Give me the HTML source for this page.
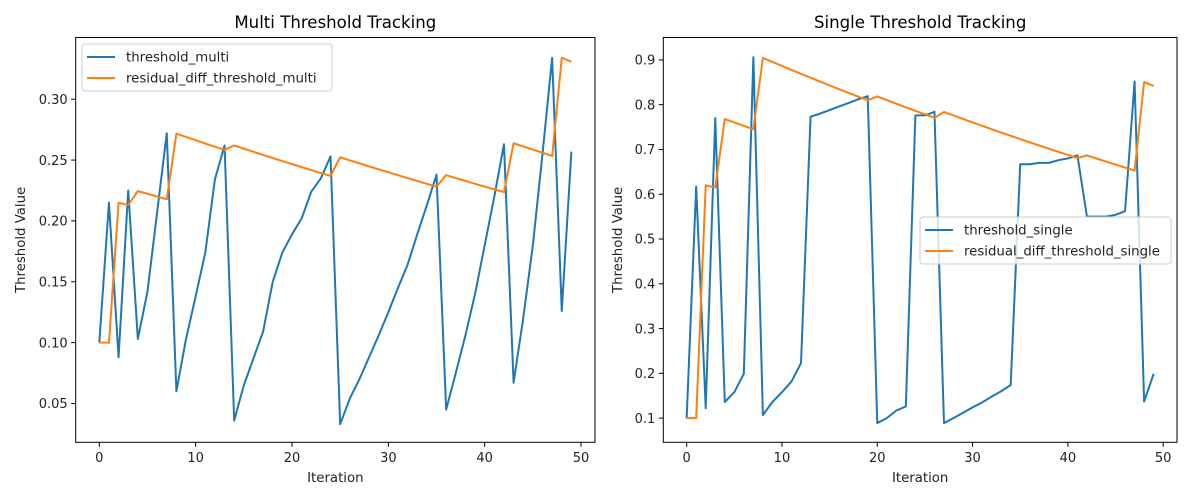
<!DOCTYPE html>
<html><head><meta charset="utf-8"><style>
body{margin:0;background:#fff;}
svg{display:block;font-family:"DejaVu Sans","Liberation Sans",sans-serif;}
</style></head><body>
<svg id="chart" width="1200" height="500" viewBox="0 0 1200 500" xmlns="http://www.w3.org/2000/svg"></svg>
<script>
const iterations = Array.from({length:50},(_,i)=>i);
const thresholdMulti = [0.100,0.215,0.088,0.225,0.103,0.142,0.207,0.272,0.060,0.103,0.138,0.174,0.234,0.262,0.036,0.065,0.087,0.109,0.150,0.174,0.189,0.202,0.224,0.235,0.253,0.033,0.054,0.070,0.088,0.106,0.125,0.145,0.164,0.189,0.213,0.238,0.045,0.075,0.106,0.140,0.180,0.220,0.263,0.067,0.120,0.180,0.255,0.334,0.126,0.257];
const residualMulti = [0.100,0.100,0.215,0.213,0.2245,0.2223,0.2200,0.2178,0.2717,0.2690,0.2663,0.2636,0.2610,0.2584,0.2620,0.2594,0.2568,0.2542,0.2517,0.2492,0.2467,0.2442,0.2418,0.2393,0.2370,0.2523,0.2498,0.2473,0.2448,0.2424,0.2400,0.2376,0.2352,0.2328,0.2305,0.2282,0.2376,0.2352,0.2329,0.2305,0.2282,0.2259,0.2237,0.2638,0.2612,0.2586,0.2560,0.2534,0.334,0.3307];
const thresholdSingle = [0.100,0.617,0.122,0.770,0.136,0.158,0.199,0.906,0.107,0.136,0.158,0.182,0.223,0.773,0.780,0.788,0.796,0.804,0.812,0.819,0.089,0.100,0.117,0.126,0.776,0.776,0.784,0.089,0.100,0.112,0.124,0.135,0.148,0.160,0.174,0.667,0.667,0.670,0.670,0.676,0.680,0.687,0.550,0.550,0.550,0.554,0.562,0.852,0.137,0.199];
const residualSingle = [0.100,0.100,0.620,0.615,0.768,0.7603,0.7527,0.7452,0.9044,0.8954,0.8864,0.8776,0.8688,0.8601,0.8515,0.8430,0.8346,0.8262,0.8180,0.8098,0.8185,0.8103,0.8022,0.7942,0.7863,0.7784,0.7706,0.7837,0.7759,0.7681,0.7604,0.7528,0.7453,0.7378,0.7305,0.7232,0.7159,0.7088,0.7017,0.6947,0.6877,0.6808,0.6867,0.6798,0.6730,0.6663,0.6596,0.6530,0.8504,0.8419];
const xTicks = [0,10,20,30,40,50];
const yTicksMulti = [0.05,0.10,0.15,0.20,0.25,0.30];
const yTicksSingle = [0.1,0.2,0.3,0.4,0.5,0.6,0.7,0.8,0.9];

const NS="http://www.w3.org/2000/svg";
const svg=document.getElementById('chart');
function mk(tag,attrs,parent){const e=document.createElementNS(NS,tag);for(const k in attrs)e.setAttribute(k,attrs[k]);(parent||svg).appendChild(e);return e;}

function panel(cfg){
  const g=mk('g',{});
  
  
  const L=cfg.left,R=cfg.right,T=37.5,B=442.3;
  const sx=v=>L+(v-cfg.xmin)/(cfg.xmax-cfg.xmin)*(R-L);
  const sy=v=>B-(v-cfg.ymin)/(cfg.ymax-cfg.ymin)*(B-T);
  const title=mk('text',{x:(L+R)/2,y:28,'text-anchor':'middle','font-size':16.6,fill:'#000'},g);
  title.textContent=cfg.title;
  
  
  const series=[[cfg.s1,'#1f77b4',cfg.n1],[cfg.s2,'#ff7f0e',cfg.n2]];
  series.forEach(([vals,col,nm])=>{
    const d=vals.map((v,i)=>(i?'L':'M')+sx(iterations[i]).toFixed(2)+' '+sy(v).toFixed(2)).join(' ');
    const p=mk('path',{d:d,fill:'none',stroke:col,'stroke-width':2,'stroke-linejoin':'round'},g);
    
    
  });
  const frame=mk('rect',{x:L,y:T,width:R-L,height:B-T,fill:'none',stroke:'#000','stroke-width':1},g);
  
  
  xTicks.forEach(t=>{
    const x=sx(t);
    mk('line',{x1:x,x2:x,y1:B,y2:B+4.5,stroke:'#000','stroke-width':1},g);
    const tx=mk('text',{x:x,y:B+19.5,'text-anchor':'middle','font-size':13,fill:'#222'},g);
    tx.textContent=t;
    
    
  });
  cfg.yticks.forEach(t=>{
    const y=sy(t);
    mk('line',{x1:L-4.5,x2:L,y1:y,y2:y,stroke:'#000','stroke-width':1},g);
    const tx=mk('text',{x:L-8,y:y+4.7,'text-anchor':'end','font-size':13,fill:'#222'},g);
    tx.textContent=t.toFixed(cfg.dec);
    
    
  });
  const xl=mk('text',{x:(L+R)/2,y:482,'text-anchor':'middle','font-size':13.3,fill:'#222'},g);
  xl.textContent='Iteration';
  
  
  const yl=mk('text',{x:0,y:0,'text-anchor':'middle','font-size':13.3,fill:'#222',transform:`translate(${cfg.ylx},${(T+B)/2}) rotate(-90)`},g);
  yl.textContent='Threshold Value';
  
  
  const lg=mk('g',{},g);
  
  
  mk('rect',{x:cfg.lx,y:cfg.ly,width:cfg.lw,height:47,rx:3,fill:'#fff','fill-opacity':0.8,stroke:'#ccc','stroke-width':1},lg);
  series.forEach(([vals,col,nm],k)=>{
    const y=cfg.ly+13+k*21;
    mk('line',{x1:cfg.lx+5,x2:cfg.lx+33,y1:y,y2:y,stroke:col,'stroke-width':2},lg);
    const t=mk('text',{x:cfg.lx+44,y:y+4.7,'font-size':13.3,fill:'#222'},lg);
    t.textContent=nm;
    
    
  });
}
panel({name:'multi-threshold-panel',title:'Multi Threshold Tracking',left:75.7,right:595,xmin:-2.45,xmax:51.45,ymin:0.0181,ymax:0.3507,
  s1:thresholdMulti,s2:residualMulti,n1:'threshold_multi',n2:'residual_diff_threshold_multi',yticks:yTicksMulti,dec:2,ylx:25,lx:82,ly:44,lw:250});
panel({name:'single-threshold-panel',title:'Single Threshold Tracking',left:663.3,right:1177,xmin:-2.45,xmax:51.45,ymin:0.046,ymax:0.950,
  s1:thresholdSingle,s2:residualSingle,n1:'threshold_single',n2:'residual_diff_threshold_single',yticks:yTicksSingle,dec:1,ylx:622,lx:920,ly:217,lw:251});
</script>
</body></html>
